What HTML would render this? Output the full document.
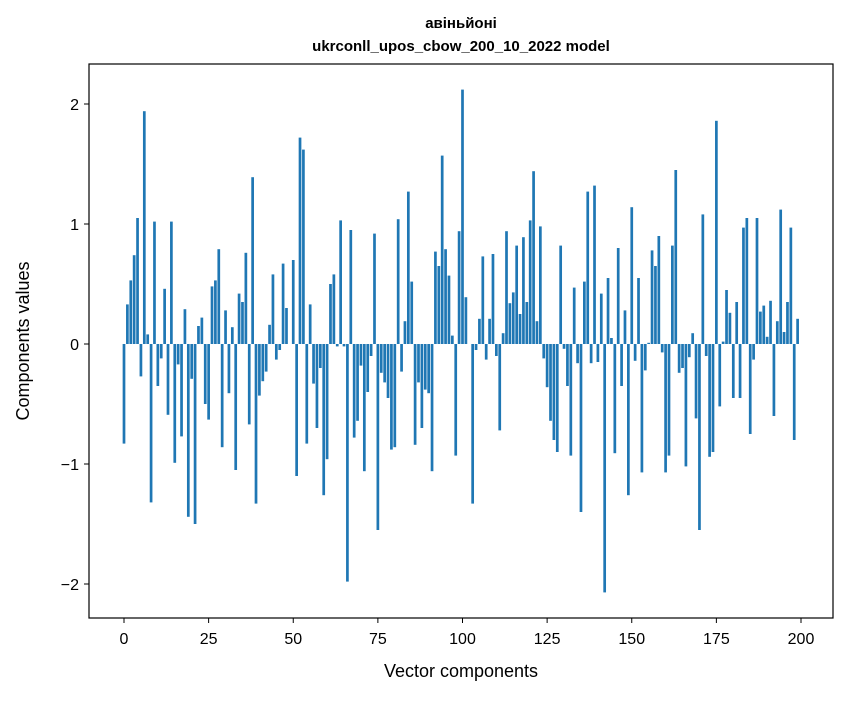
<!DOCTYPE html>
<html><head><meta charset="utf-8"><style>
body{margin:0;background:#fff;font-family:"Liberation Sans","DejaVu Sans",sans-serif;}
svg text{font-family:"Liberation Sans","DejaVu Sans",sans-serif;}
</style></head><body>
<svg id="chart" width="847" height="696" xmlns="http://www.w3.org/2000/svg">
<rect width="847" height="696" fill="#fff"/>
<text x="461" y="28" text-anchor="middle" font-size="15" font-weight="bold">авіньйоні</text>
<text x="461" y="51" text-anchor="middle" font-size="15" font-weight="bold">ukrconll_upos_cbow_200_10_2022 model</text>
<g id="bars"></g>
<g id="axes"></g>
<rect x="89" y="64" width="744" height="554" fill="none" stroke="#000" stroke-width="1.2"/>
<text x="461" y="677" text-anchor="middle" font-size="18">Vector components</text>
<text transform="translate(29,341) rotate(-90)" text-anchor="middle" font-size="18">Components values</text>
</svg>
<script>
const values=[-0.83,0.33,0.53,0.74,1.05,-0.27,1.94,0.08,-1.32,1.02,-0.35,-0.12,0.46,-0.59,1.02,-0.99,-0.17,-0.77,0.29,-1.44,
-0.29,-1.50,0.15,0.22,-0.50,-0.63,0.48,0.53,0.79,-0.86,0.28,-0.41,0.14,-1.05,0.42,0.35,0.76,-0.67,1.39,-1.33,
-0.43,-0.31,-0.23,0.16,0.58,-0.13,-0.05,0.67,0.30,0.0,0.70,-1.10,1.72,1.62,-0.83,0.33,-0.33,-0.70,-0.20,-1.26,
-0.96,0.50,0.58,-0.02,1.03,-0.02,-1.98,0.95,-0.78,-0.64,-0.18,-1.06,-0.40,-0.10,0.92,-1.55,-0.24,-0.32,-0.45,-0.88,
-0.86,1.04,-0.23,0.19,1.27,0.52,-0.84,-0.32,-0.70,-0.38,-0.41,-1.06,0.77,0.65,1.57,0.79,0.57,0.07,-0.93,0.94,
2.12,0.39,0.0,-1.33,-0.05,0.21,0.73,-0.13,0.21,0.75,-0.10,-0.72,0.09,0.94,0.34,0.43,0.82,0.25,0.89,0.35,
1.03,1.44,0.19,0.98,-0.12,-0.36,-0.64,-0.80,-0.90,0.82,-0.04,-0.35,-0.93,0.47,-0.16,-1.40,0.52,1.27,-0.16,1.32,
-0.15,0.42,-2.07,0.55,0.05,-0.91,0.80,-0.35,0.28,-1.26,1.14,-0.14,0.55,-1.07,-0.22,0.01,0.78,0.65,0.90,-0.07,
-1.07,-0.93,0.82,1.45,-0.24,-0.20,-1.02,-0.11,0.09,-0.62,-1.55,1.08,-0.10,-0.94,-0.90,1.86,-0.52,0.02,0.45,0.26,
-0.45,0.35,-0.45,0.97,1.05,-0.75,-0.13,1.05,0.27,0.32,0.06,0.36,-0.60,0.19,1.12,0.10,0.35,0.97,-0.80,0.21];
const xTicks=[0,25,50,75,100,125,150,175,200];
const yTicks=[-2,-1,0,1,2];
const yTickLabels=["\u22122","\u22121","0","1","2"];
const NS="http://www.w3.org/2000/svg";
const xs=v=>124+v*3.385;
const ys=v=>344-v*120;
const bars=document.getElementById('bars');
values.forEach((v,i)=>{
  const r=document.createElementNS(NS,'rect');
  
  
  r.setAttribute('x',xs(i-0.4));
  r.setAttribute('width',3.385*0.8);
  r.setAttribute('y',Math.min(ys(v),ys(0)));
  r.setAttribute('height',Math.abs(ys(v)-ys(0)));
  r.setAttribute('fill','#1f77b4');
  bars.appendChild(r);
});
const axes=document.getElementById('axes');
xTicks.forEach(t=>{
  const l=document.createElementNS(NS,'line');
  
  
  l.setAttribute('x1',xs(t));l.setAttribute('x2',xs(t));l.setAttribute('y1',618);l.setAttribute('y2',623);
  l.setAttribute('stroke','#000');
  axes.appendChild(l);
  const tx=document.createElementNS(NS,'text');
  
  
  tx.setAttribute('x',xs(t));tx.setAttribute('y',644);tx.setAttribute('text-anchor','middle');tx.setAttribute('font-size','16');
  tx.textContent=t;
  axes.appendChild(tx);
});
yTicks.forEach((t,i)=>{
  const l=document.createElementNS(NS,'line');
  
  
  l.setAttribute('x1',84);l.setAttribute('x2',89);l.setAttribute('y1',ys(t));l.setAttribute('y2',ys(t));
  l.setAttribute('stroke','#000');
  axes.appendChild(l);
  const tx=document.createElementNS(NS,'text');
  
  
  tx.setAttribute('x',79);tx.setAttribute('y',ys(t)+6);tx.setAttribute('text-anchor','end');tx.setAttribute('font-size','16');
  tx.textContent=yTickLabels[i];
  axes.appendChild(tx);
});
</script>
</body></html>
